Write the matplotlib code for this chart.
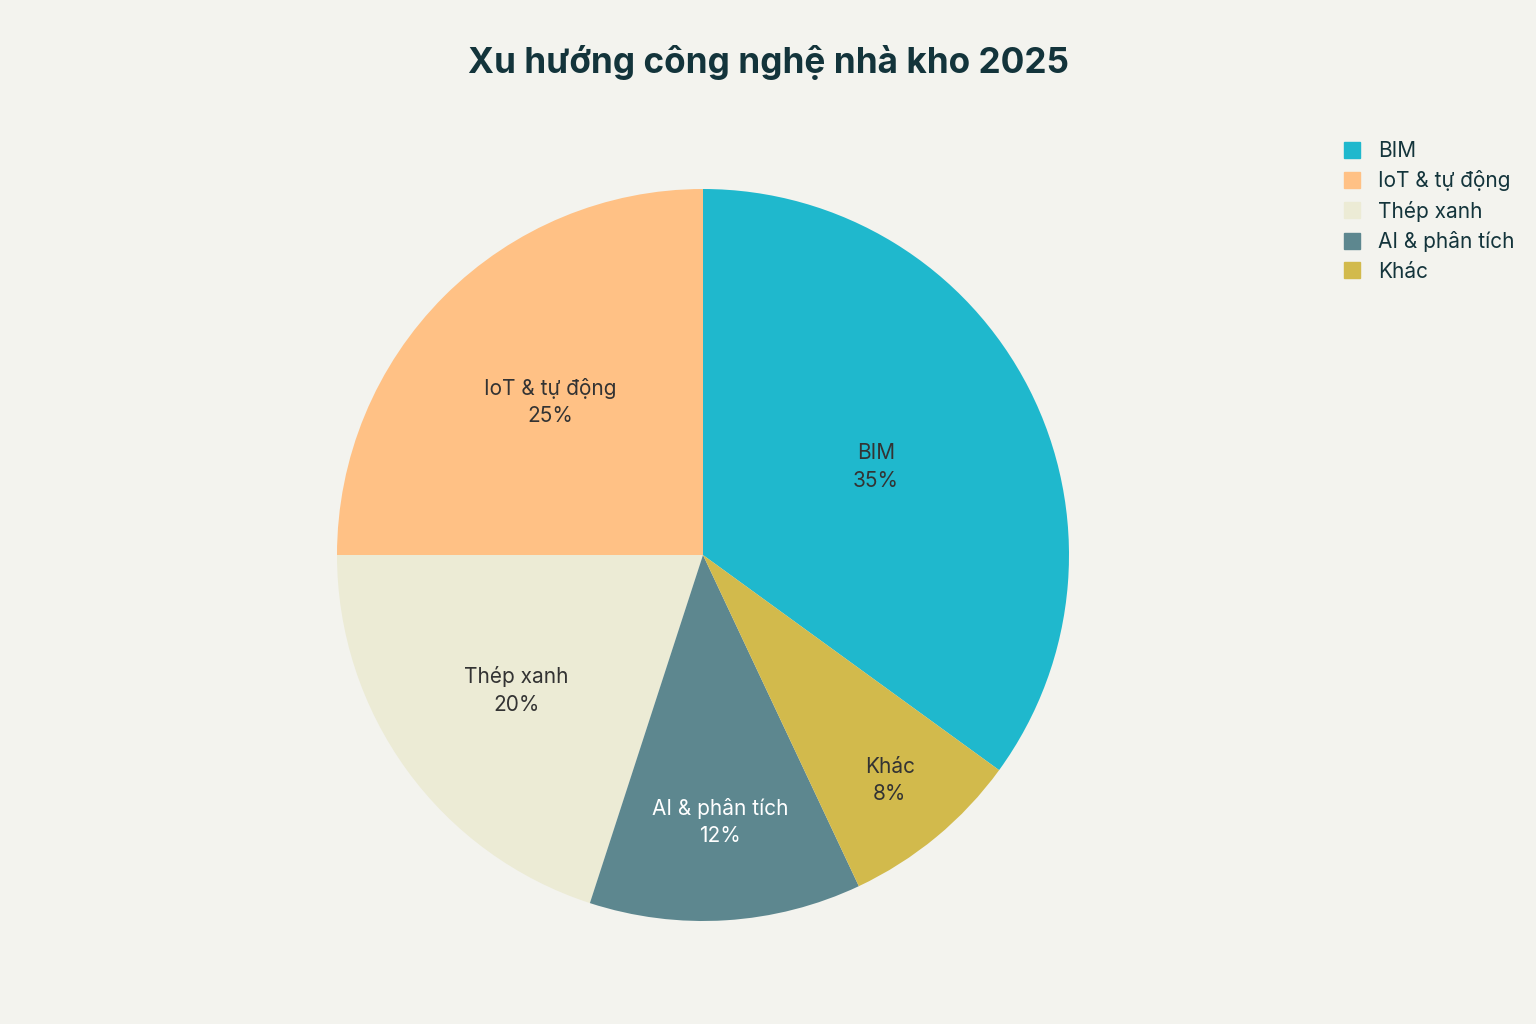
import numpy as np
import matplotlib
matplotlib.use("Agg")
import matplotlib.pyplot as plt
from matplotlib.lines import Line2D

plt.rcParams['font.family'] = ['Inter', 'DejaVu Sans']

# Data
categories = ["BIM", "IoT & tự động", "Thép xanh", "AI & phân tích", "Khác"]
values = [35, 25, 20, 12, 8]
colors = ["#1FB8CD", "#FFC185", "#ECEBD5", "#5D878F", "#D2BA4C"]
text_colors = ["#333333", "#333333", "#333333", "#FFFFFF", "#333333"]
label_radius = [0.53, 0.59, 0.63, 0.73, 0.80]
title = "Xu hướng công nghệ nhà kho 2025"

BG = "#F3F3EE"
W, H = 1536, 1024
fig = plt.figure(figsize=(W / 100, H / 100), dpi=100, facecolor=BG)

cx, cy, r = 703, 555, 366
ax = fig.add_axes([(cx - r) / W, (H - cy - r) / H, 2 * r / W, 2 * r / H])
ax.set_facecolor(BG)

total = sum(values)
start = 90 - 360 * values[0] / total
wedges, _ = ax.pie(values, colors=colors, startangle=start, counterclock=True,
                   radius=1, wedgeprops=dict(linewidth=0))
ax.set_xlim(-1, 1)
ax.set_ylim(-1, 1)
ax.set_aspect('equal')
ax.axis('off')

for w, cat, v, tc, lr in zip(wedges, categories, values, text_colors, label_radius):
    mid = np.deg2rad((w.theta1 + w.theta2) / 2)
    ax.text(lr * np.cos(mid), lr * np.sin(mid), f"{cat}\n{v}%", ha='center', va='center',
            fontsize=15, color=tc, linespacing=1.45)

fig.text(0.5, 1 - 63 / H, title, ha='center', va='center', fontsize=25.3,
         fontweight='bold', color="#13343B")

handles = [Line2D([0], [0], marker='s', linestyle='none', markersize=11.5,
                  markerfacecolor=c, markeredgecolor=c) for c in colors]
leg = fig.legend(handles, categories, loc='upper left',
                 bbox_to_anchor=(1342 / W, 1 - 141 / H), frameon=False,
                 fontsize=15, handlelength=1.0, handletextpad=0.75,
                 labelspacing=0.45, borderpad=0, borderaxespad=0)
for t in leg.get_texts():
    t.set_color("#13343B")

fig.savefig("out.png", dpi=100, facecolor=BG)
